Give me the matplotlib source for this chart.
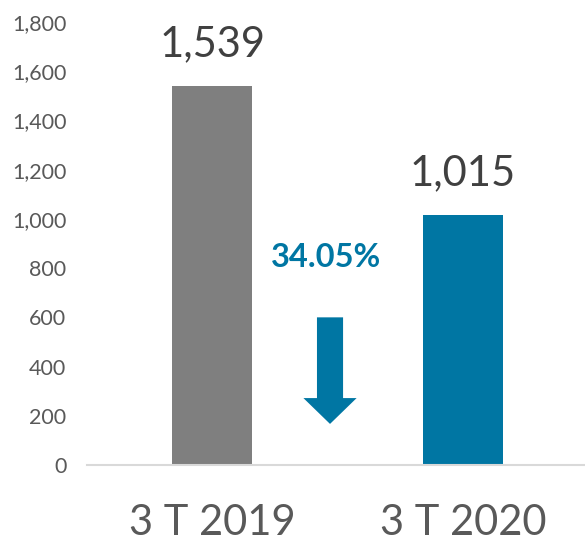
import matplotlib

matplotlib.use("Agg")
import matplotlib.pyplot as plt  # noqa: E402
from matplotlib.patches import FancyArrow  # noqa: E402
from matplotlib.ticker import FuncFormatter  # noqa: E402

# data
categories = ["3 T 2019", "3 T 2020"]
values = [1539, 1015]
bar_colors = ["#7F7F7F", "#0076A3"]
change_label = "34.05%"
arrow_top, arrow_tip, arrow_head = 600, 167, 105

plt.rcParams["font.family"] = ["Lato", "DejaVu Sans"]

fig = plt.figure(figsize=(5.85, 5.43), dpi=100)
ax = fig.add_axes([0.148, 0.1436, 0.858, 0.8159])

x = range(len(categories))
ax.bar(x, values, width=0.32, color=bar_colors, zorder=2)
for xi, v in zip(x, values):
    ax.text(xi, v + 95, f"{v:,}", ha="center", va="bottom",
            fontsize=30, color="#404040")

# change annotation between the bars
ax.text(0.455, 845, change_label, ha="center", va="center",
        fontsize=23.5, fontweight="bold", color="#0076A3")
ax.add_patch(FancyArrow(0.47, arrow_top, 0, -(arrow_top - arrow_tip),
                        width=0.104, head_width=0.212, head_length=arrow_head,
                        length_includes_head=True, color="#0076A3", lw=0))

ax.set_xlim(-0.5, 1.5)
ax.set_ylim(0, 1800)
ax.set_yticks(range(0, 1801, 200))
ax.yaxis.set_major_formatter(FuncFormatter(lambda v, _: f"{int(v):,}"))
ax.set_xticks(list(x))
ax.set_xticklabels(categories, fontsize=30, color="#595959")
ax.tick_params(axis="y", length=0, labelsize=15.5, labelcolor="#595959", pad=14.5)
ax.tick_params(axis="x", length=0, pad=28)

for side in ["top", "right", "left"]:
    ax.spines[side].set_visible(False)
ax.spines["bottom"].set_color("#D9D9D9")
ax.spines["bottom"].set_linewidth(1.5)

fig.savefig("out.png", dpi=100)
